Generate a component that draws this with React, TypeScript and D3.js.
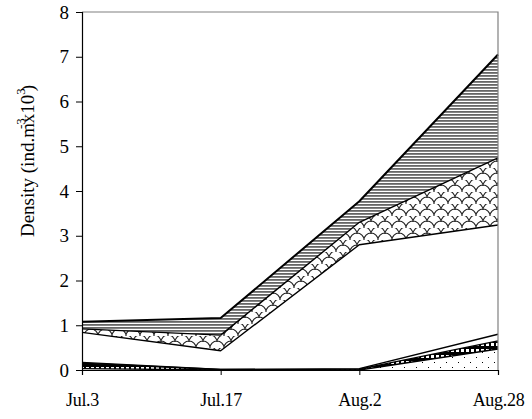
import React, { useEffect, useRef } from "react"
import * as d3 from "d3"

const WIDTH = 532
const HEIGHT = 419

const dates = ["Jul.3", "Jul.17", "Aug.2", "Aug.28"]
const yTicks = [0, 1, 2, 3, 4, 5, 6, 7, 8]

// series from bottom to top (density, ind.m-3 x 10^3)
const dotted = [0.03, 0.0, 0.0, 0.47]
const bricks = [0.12, 0.01, 0.02, 0.18]
const thinWhite = [0.02, 0.0, 0.01, 0.15]
const bigWhite = [0.67, 0.42, 2.77, 2.44]
const scallop = [0.08, 0.35, 0.5, 1.5]
const stripes = [0.16, 0.38, 0.47, 2.31]

const seriesKeys = ["dotted", "bricks", "thinWhite", "bigWhite", "scallop", "stripes"]
const seriesFills = {
	dotted: "url(#pat-dots)",
	bricks: "url(#pat-bricks)",
	thinWhite: "#fff",
	bigWhite: "#fff",
	scallop: "url(#pat-scallop)",
	stripes: "url(#pat-stripes)",
}

const rows = dates.map((d, i) => ({
	date: d,
	dotted: dotted[i],
	bricks: bricks[i],
	thinWhite: thinWhite[i],
	bigWhite: bigWhite[i],
	scallop: scallop[i],
	stripes: stripes[i],
}))

const App = () => {
	const svgRef = useRef(null)

	useEffect(() => {
		const svg = d3.select(svgRef.current)
		svg.selectAll("*").remove()

		const margin = { top: 12, right: 34, bottom: 49, left: 82 }
		const left = margin.left
		const right = WIDTH - margin.right
		const top = margin.top
		const bottom = HEIGHT - margin.bottom

		const defs = svg.append("defs")

		// horizontal gray stripes
		const ps = defs.append("pattern")
			.attr("id", "pat-stripes")
			.attr("patternUnits", "userSpaceOnUse")
			.attr("width", 8).attr("height", 3)
		ps.append("rect").attr("width", 8).attr("height", 3).attr("fill", "#fff")
		ps.append("rect").attr("width", 8).attr("height", 1.8).attr("fill", "#666")

		// fish scale pattern
		const pc = defs.append("pattern")
			.attr("id", "pat-scallop")
			.attr("patternUnits", "userSpaceOnUse")
			.attr("width", 14).attr("height", 12)
		pc.append("rect").attr("width", 14).attr("height", 12).attr("fill", "#fff")
		pc.append("path")
			.attr("d", "M0,12 A7,7 0 0,1 14,12 M-7,6 A7,7 0 0,1 7,6 M7,6 A7,7 0 0,1 21,6 M0,0 A7,7 0 0,1 14,0")
			.attr("fill", "none").attr("stroke", "#222").attr("stroke-width", 1.1)

		// black band with white squares
		const pb = defs.append("pattern")
			.attr("id", "pat-bricks")
			.attr("patternUnits", "userSpaceOnUse")
			.attr("width", 5).attr("height", 6)
		pb.append("rect").attr("width", 5).attr("height", 6).attr("fill", "#000")
		pb.append("rect").attr("x", 1).attr("y", 1).attr("width", 3).attr("height", 3).attr("fill", "#fff")

		// sparse dots
		const pd = defs.append("pattern")
			.attr("id", "pat-dots")
			.attr("patternUnits", "userSpaceOnUse")
			.attr("width", 12).attr("height", 10)
		pd.append("rect").attr("width", 12).attr("height", 10).attr("fill", "#fff")
		pd.append("rect").attr("x", 2).attr("y", 2).attr("width", 1).attr("height", 1).attr("fill", "#000")
		pd.append("rect").attr("x", 8).attr("y", 7).attr("width", 1).attr("height", 1).attr("fill", "#000")

		const x = d3.scalePoint().domain(dates).range([left, right])
		const y = d3.scaleLinear().domain([0, 8]).range([bottom, top])

		const stacked = d3.stack().keys(seriesKeys)(rows)

		const area = d3.area()
			.x((d) => x(d.data.date))
			.y0((d) => y(d[0]))
			.y1((d) => y(d[1]))

		const line = d3.line()
			.x((d) => x(d.data.date))
			.y((d) => y(d[1]))

		const g = svg.append("g")
		stacked.forEach((s) => {
			g.append("path")
				.datum(s)
				.attr("fill", seriesFills[s.key])
				.attr("stroke", "none")
				.attr("d", area)
		})
		stacked.forEach((s) => {
			g.append("path")
				.datum(s)
				.attr("fill", "none")
				.attr("stroke", "#000")
				.attr("stroke-width", s.key === "stripes" ? 2 : 1.4)
				.attr("stroke-linejoin", "round")
				.attr("d", line)
		})

		// plot border (gray top and right)
		svg.append("path")
			.attr("d", `M${left},${top}H${right}V${bottom}`)
			.attr("fill", "none")
			.attr("stroke", "#808080")
			.attr("stroke-width", 1.2)

		const font = "'Liberation Serif', 'DejaVu Serif', serif"

		const yAxis = svg.append("g")
			.attr("transform", `translate(${left},0)`)
			.call(d3.axisLeft(y).tickValues(yTicks).tickSize(6).tickPadding(7).tickFormat(d3.format("d")))
		yAxis.select(".domain").attr("stroke", "#000").attr("stroke-width", 1.2)
		yAxis.selectAll(".tick line").attr("stroke", "#000")
		yAxis.selectAll("text")
			.attr("fill", "#000")
			.style("font-family", font)
			.style("font-size", "19px")

		const xAxis = svg.append("g")
			.attr("transform", `translate(0,${bottom})`)
			.call(d3.axisBottom(x).tickSize(5).tickPadding(18))
		xAxis.select(".domain").attr("stroke", "#000").attr("stroke-width", 1.2)
		xAxis.selectAll(".tick line").attr("stroke", "#000")
		xAxis.selectAll("text")
			.attr("fill", "#000")
			.style("font-family", font)
			.style("font-size", "18px")
			.style("letter-spacing", "-0.3px")

		const label = svg.append("text")
			.attr("transform", `translate(34,161) rotate(-90)`)
			.attr("text-anchor", "middle")
			.style("font-family", font)
			.style("font-size", "19px")
		label.append("tspan").text("Density (ind.m")
		label.append("tspan").attr("dy", -9).attr("dx", -6).style("font-size", "13px").text("-3")
		label.append("tspan").attr("dy", 9).attr("dx", -5).text("x10")
		label.append("tspan").attr("dy", -9).style("font-size", "13px").text("3")
		label.append("tspan").attr("dy", 9).attr("dx", -3).text(")")
	}, [])

	return (
		<svg
			ref={svgRef}
			width={WIDTH}
			height={HEIGHT}
			style={{ position: "absolute", left: 0, top: 0, background: "#fff" }}
		></svg>
	)
}

export default App
